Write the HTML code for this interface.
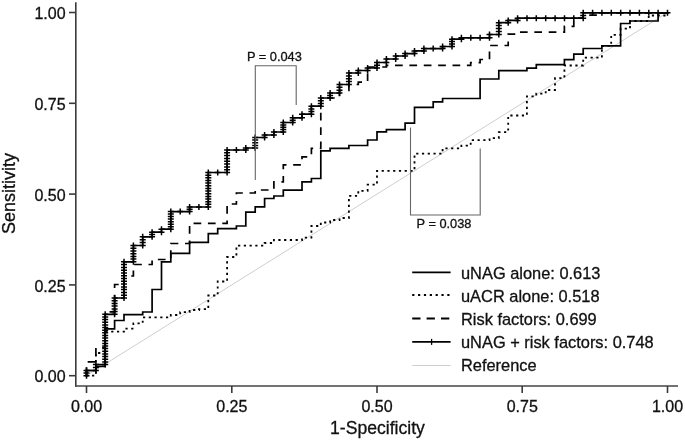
<!DOCTYPE html>
<html><head><meta charset="utf-8"><style>
html,body{margin:0;padding:0;background:#fff;overflow:hidden;width:685px;height:440px;}
svg{display:block;will-change:transform;}
text{font-family:"Liberation Sans",sans-serif;fill:#111;stroke:#111;stroke-width:0.3px;}
</style></head><body>
<svg width="685" height="440" viewBox="0 0 685 440">
<rect width="685" height="440" fill="#fff"/>
<line x1="86.5" y1="375.7" x2="667.5" y2="12.5" stroke="#c8c8c8" stroke-width="0.9"/>
<path d="M86.5 375.7 H95.9 V353.0 H105.2 V331.6 H124.0 V328.6 H133.4 V323.4 H142.7 V317.4 H170.8 V315.0 H180.2 V312.2 H189.6 V310.0 H199.0 V309.2 H208.3 V295.5 H217.7 V281.5 H227.1 V257.0 H236.4 V245.7 H264.6 V243.0 H273.9 V240.0 H302.0 V237.7 H311.4 V226.0 H320.8 V222.5 H330.1 V220.0 H339.5 V218.0 H348.9 V195.8 H358.3 V190.8 H367.6 V184.7 H377.0 V170.8 H414.5 V153.6 H442.6 V148.3 H461.4 V145.6 H470.7 V140.2 H489.5 V138.2 H498.8 V132.2 H508.2 V115.5 H526.9 V96.4 H536.3 V93.6 H545.7 V90.0 H555.0 V78.2 H564.4 V65.5 H583.2 V57.7 H601.9 V45.9 H611.2 V34.8 H620.6 V28.6 H630.0 V21.0 H648.7 V15.5 H667.5 V12.8" fill="none" stroke="#000" stroke-width="1.8" stroke-dasharray="2.2 3.55" stroke-dashoffset="0.2" stroke-linejoin="miter"/>
<path d="M86.5 375.7 V361.8 H95.9 V347.5 H105.2 V311.8 H114.6 V284.5 H124.0 V276.0 H133.4 V264.5 H152.1 V259.5 H170.8 V243.5 H189.6 V223.3 H227.1 V204.0 H236.4 V193.0 H255.2 V190.0 H273.9 V181.8 H283.3 V164.8 H302.0 V156.8 H311.4 V148.3 H320.8 V98.0 H339.5 V90.5 H348.9 V84.5 H358.3 V82.2 H367.6 V67.0 H386.4 V65.4 H470.7 V62.7 H480.1 V59.5 H489.5 V45.5 H508.2 V34.2 H517.6 V32.2 H564.4 V26.3 H573.8 V18.2 H583.2 V15.2 H601.9 V12.8 H667.5" fill="none" stroke="#000" stroke-width="1.7" stroke-dasharray="7.7 6.675" stroke-dashoffset="-0.7"/>
<path d="M86.5 375.7 V370.5 H95.9 V366.4 H105.2 V328.8 H114.6 V320.5 H124.0 V314.6 H142.7 V312.0 H152.1 V289.5 H161.5 V261.8 H170.8 V253.3 H189.6 V242.4 H208.3 V233.6 H217.7 V228.7 H236.4 V226.0 H245.8 V212.2 H255.2 V206.8 H264.6 V198.5 H273.9 V196.0 H283.3 V190.1 H302.0 V181.8 H311.4 V178.5 H320.8 V150.8 H330.1 V148.3 H348.9 V145.5 H367.6 V140.0 H377.0 V131.8 H386.4 V129.6 H405.1 V123.1 H414.5 V107.3 H433.2 V101.8 H442.6 V98.5 H480.1 V79.0 H498.8 V70.7 H526.9 V68.2 H536.3 V64.7 H564.4 V59.7 H573.8 V54.2 H583.2 V48.5 H601.9 V45.9 H620.6 V23.5 H630.0 V21.0 H658.1 V12.8 H667.5" fill="none" stroke="#000" stroke-width="1.7" stroke-linecap="square"/>
<path d="M86.5 375.7 V370.5 H95.9 V364.5 H105.2 V314.3 H114.6 V298.0 H124.0 V261.8 H133.4 V245.5 H142.7 V236.8 H152.1 V232.2 H161.5 V229.2 H170.8 V211.6 H189.6 V207.0 H208.3 V172.5 H227.1 V150.0 H245.8 V148.0 H255.2 V137.5 H264.6 V135.0 H273.9 V132.0 H283.3 V122.5 H292.7 V117.8 H302.0 V114.2 H311.4 V106.2 H320.8 V98.0 H330.1 V93.0 H339.5 V84.5 H348.9 V73.0 H358.3 V70.5 H367.6 V68.0 H377.0 V62.5 H386.4 V59.0 H395.7 V56.0 H405.1 V53.6 H414.5 V50.9 H423.9 V48.6 H442.6 V46.5 H452.0 V39.2 H461.4 V37.8 H489.5 V34.5 H498.8 V22.7 H508.2 V20.4 H517.6 V18.2 H583.2 V12.8 H667.5" fill="none" stroke="#000" stroke-width="1.7" stroke-linecap="square"/>
<path d="M83.5 375.7h6.0M86.5 372.7v6.0M83.5 373.1h6.0M86.5 370.1v6.0M83.5 370.5h6.0M86.5 367.5v6.0M92.9 370.5h6.0M95.9 367.5v6.0M92.9 367.5h6.0M95.9 364.5v6.0M92.9 364.5h6.0M95.9 361.5v6.0M102.2 364.5h6.0M105.2 361.5v6.0M102.2 361.9h6.0M105.2 358.9v6.0M102.2 359.2h6.0M105.2 356.2v6.0M102.2 356.6h6.0M105.2 353.6v6.0M102.2 353.9h6.0M105.2 350.9v6.0M102.2 351.3h6.0M105.2 348.3v6.0M102.2 348.6h6.0M105.2 345.6v6.0M102.2 346.0h6.0M105.2 343.0v6.0M102.2 343.4h6.0M105.2 340.4v6.0M102.2 340.7h6.0M105.2 337.7v6.0M102.2 338.1h6.0M105.2 335.1v6.0M102.2 335.4h6.0M105.2 332.4v6.0M102.2 332.8h6.0M105.2 329.8v6.0M102.2 330.2h6.0M105.2 327.2v6.0M102.2 327.5h6.0M105.2 324.5v6.0M102.2 324.9h6.0M105.2 321.9v6.0M102.2 322.2h6.0M105.2 319.2v6.0M102.2 319.6h6.0M105.2 316.6v6.0M102.2 316.9h6.0M105.2 313.9v6.0M102.2 314.3h6.0M105.2 311.3v6.0M111.6 314.3h6.0M114.6 311.3v6.0M111.6 311.6h6.0M114.6 308.6v6.0M111.6 308.9h6.0M114.6 305.9v6.0M111.6 306.1h6.0M114.6 303.1v6.0M111.6 303.4h6.0M114.6 300.4v6.0M111.6 300.7h6.0M114.6 297.7v6.0M111.6 298.0h6.0M114.6 295.0v6.0M121.0 298.0h6.0M124.0 295.0v6.0M121.0 295.2h6.0M124.0 292.2v6.0M121.0 292.4h6.0M124.0 289.4v6.0M121.0 289.6h6.0M124.0 286.6v6.0M121.0 286.9h6.0M124.0 283.9v6.0M121.0 284.1h6.0M124.0 281.1v6.0M121.0 281.3h6.0M124.0 278.3v6.0M121.0 278.5h6.0M124.0 275.5v6.0M121.0 275.7h6.0M124.0 272.7v6.0M121.0 272.9h6.0M124.0 269.9v6.0M121.0 270.2h6.0M124.0 267.2v6.0M121.0 267.4h6.0M124.0 264.4v6.0M121.0 264.6h6.0M124.0 261.6v6.0M121.0 261.8h6.0M124.0 258.8v6.0M130.4 261.8h6.0M133.4 258.8v6.0M130.4 259.1h6.0M133.4 256.1v6.0M130.4 256.4h6.0M133.4 253.4v6.0M130.4 253.7h6.0M133.4 250.7v6.0M130.4 250.9h6.0M133.4 247.9v6.0M130.4 248.2h6.0M133.4 245.2v6.0M130.4 245.5h6.0M133.4 242.5v6.0M139.7 245.5h6.0M142.7 242.5v6.0M139.7 242.6h6.0M142.7 239.6v6.0M139.7 239.7h6.0M142.7 236.7v6.0M139.7 236.8h6.0M142.7 233.8v6.0M149.1 236.8h6.0M152.1 233.8v6.0M149.1 234.5h6.0M152.1 231.5v6.0M149.1 232.2h6.0M152.1 229.2v6.0M158.5 232.2h6.0M161.5 229.2v6.0M158.5 229.2h6.0M161.5 226.2v6.0M167.8 229.2h6.0M170.8 226.2v6.0M167.8 226.7h6.0M170.8 223.7v6.0M167.8 224.2h6.0M170.8 221.2v6.0M167.8 221.7h6.0M170.8 218.7v6.0M167.8 219.1h6.0M170.8 216.1v6.0M167.8 216.6h6.0M170.8 213.6v6.0M167.8 214.1h6.0M170.8 211.1v6.0M167.8 211.6h6.0M170.8 208.6v6.0M177.2 211.6h6.0M180.2 208.6v6.0M186.6 211.6h6.0M189.6 208.6v6.0M186.6 209.3h6.0M189.6 206.3v6.0M186.6 207.0h6.0M189.6 204.0v6.0M195.9 207.0h6.0M198.9 204.0v6.0M205.3 207.0h6.0M208.3 204.0v6.0M205.3 204.3h6.0M208.3 201.3v6.0M205.3 201.7h6.0M208.3 198.7v6.0M205.3 199.0h6.0M208.3 196.0v6.0M205.3 196.4h6.0M208.3 193.4v6.0M205.3 193.7h6.0M208.3 190.7v6.0M205.3 191.1h6.0M208.3 188.1v6.0M205.3 188.4h6.0M208.3 185.4v6.0M205.3 185.8h6.0M208.3 182.8v6.0M205.3 183.1h6.0M208.3 180.1v6.0M205.3 180.5h6.0M208.3 177.5v6.0M205.3 177.8h6.0M208.3 174.8v6.0M205.3 175.2h6.0M208.3 172.2v6.0M205.3 172.5h6.0M208.3 169.5v6.0M214.7 172.5h6.0M217.7 169.5v6.0M224.1 172.5h6.0M227.1 169.5v6.0M224.1 169.7h6.0M227.1 166.7v6.0M224.1 166.9h6.0M227.1 163.9v6.0M224.1 164.1h6.0M227.1 161.1v6.0M224.1 161.2h6.0M227.1 158.2v6.0M224.1 158.4h6.0M227.1 155.4v6.0M224.1 155.6h6.0M227.1 152.6v6.0M224.1 152.8h6.0M227.1 149.8v6.0M224.1 150.0h6.0M227.1 147.0v6.0M233.4 150.0h6.0M236.4 147.0v6.0M242.8 150.0h6.0M245.8 147.0v6.0M242.8 148.0h6.0M245.8 145.0v6.0M252.2 148.0h6.0M255.2 145.0v6.0M252.2 145.4h6.0M255.2 142.4v6.0M252.2 142.8h6.0M255.2 139.8v6.0M252.2 140.1h6.0M255.2 137.1v6.0M252.2 137.5h6.0M255.2 134.5v6.0M261.6 137.5h6.0M264.6 134.5v6.0M261.6 135.0h6.0M264.6 132.0v6.0M270.9 135.0h6.0M273.9 132.0v6.0M270.9 132.0h6.0M273.9 129.0v6.0M280.3 132.0h6.0M283.3 129.0v6.0M280.3 129.6h6.0M283.3 126.6v6.0M280.3 127.2h6.0M283.3 124.2v6.0M280.3 124.9h6.0M283.3 121.9v6.0M280.3 122.5h6.0M283.3 119.5v6.0M289.7 122.5h6.0M292.7 119.5v6.0M289.7 120.2h6.0M292.7 117.2v6.0M289.7 117.8h6.0M292.7 114.8v6.0M299.0 117.8h6.0M302.0 114.8v6.0M299.0 114.2h6.0M302.0 111.2v6.0M308.4 114.2h6.0M311.4 111.2v6.0M308.4 111.5h6.0M311.4 108.5v6.0M308.4 108.9h6.0M311.4 105.9v6.0M308.4 106.2h6.0M311.4 103.2v6.0M317.8 106.2h6.0M320.8 103.2v6.0M317.8 103.5h6.0M320.8 100.5v6.0M317.8 100.7h6.0M320.8 97.7v6.0M317.8 98.0h6.0M320.8 95.0v6.0M327.1 98.0h6.0M330.1 95.0v6.0M327.1 95.5h6.0M330.1 92.5v6.0M327.1 93.0h6.0M330.1 90.0v6.0M336.5 93.0h6.0M339.5 90.0v6.0M336.5 90.2h6.0M339.5 87.2v6.0M336.5 87.3h6.0M339.5 84.3v6.0M336.5 84.5h6.0M339.5 81.5v6.0M345.9 84.5h6.0M348.9 81.5v6.0M345.9 81.6h6.0M348.9 78.6v6.0M345.9 78.8h6.0M348.9 75.8v6.0M345.9 75.9h6.0M348.9 72.9v6.0M345.9 73.0h6.0M348.9 70.0v6.0M355.3 73.0h6.0M358.3 70.0v6.0M355.3 70.5h6.0M358.3 67.5v6.0M364.6 70.5h6.0M367.6 67.5v6.0M364.6 68.0h6.0M367.6 65.0v6.0M374.0 68.0h6.0M377.0 65.0v6.0M374.0 65.2h6.0M377.0 62.2v6.0M374.0 62.5h6.0M377.0 59.5v6.0M383.4 62.5h6.0M386.4 59.5v6.0M383.4 59.0h6.0M386.4 56.0v6.0M392.7 59.0h6.0M395.7 56.0v6.0M392.7 56.0h6.0M395.7 53.0v6.0M402.1 56.0h6.0M405.1 53.0v6.0M402.1 53.6h6.0M405.1 50.6v6.0M411.5 53.6h6.0M414.5 50.6v6.0M411.5 50.9h6.0M414.5 47.9v6.0M420.9 50.9h6.0M423.9 47.9v6.0M420.9 48.6h6.0M423.9 45.6v6.0M430.2 48.6h6.0M433.2 45.6v6.0M439.6 48.6h6.0M442.6 45.6v6.0M439.6 46.5h6.0M442.6 43.5v6.0M449.0 46.5h6.0M452.0 43.5v6.0M449.0 44.1h6.0M452.0 41.1v6.0M449.0 41.6h6.0M452.0 38.6v6.0M449.0 39.2h6.0M452.0 36.2v6.0M458.4 39.2h6.0M461.4 36.2v6.0M458.4 37.8h6.0M461.4 34.8v6.0M467.8 37.8h6.0M470.8 34.8v6.0M477.1 37.8h6.0M480.1 34.8v6.0M486.5 37.8h6.0M489.5 34.8v6.0M486.5 34.5h6.0M489.5 31.5v6.0M495.8 34.5h6.0M498.8 31.5v6.0M495.8 31.6h6.0M498.8 28.6v6.0M495.8 28.6h6.0M498.8 25.6v6.0M495.8 25.6h6.0M498.8 22.6v6.0M495.8 22.7h6.0M498.8 19.7v6.0M505.2 22.7h6.0M508.2 19.7v6.0M505.2 20.4h6.0M508.2 17.4v6.0M514.6 20.4h6.0M517.6 17.4v6.0M514.6 18.2h6.0M517.6 15.2v6.0M524.0 18.2h6.0M527.0 15.2v6.0M533.3 18.2h6.0M536.3 15.2v6.0M542.7 18.2h6.0M545.7 15.2v6.0M552.1 18.2h6.0M555.1 15.2v6.0M561.5 18.2h6.0M564.5 15.2v6.0M570.8 18.2h6.0M573.8 15.2v6.0M580.2 18.2h6.0M583.2 15.2v6.0M580.2 15.5h6.0M583.2 12.5v6.0M580.2 12.8h6.0M583.2 9.8v6.0M589.6 12.8h6.0M592.6 9.8v6.0M598.9 12.8h6.0M601.9 9.8v6.0M608.3 12.8h6.0M611.3 9.8v6.0M617.7 12.8h6.0M620.7 9.8v6.0M627.0 12.8h6.0M630.0 9.8v6.0M636.4 12.8h6.0M639.4 9.8v6.0M645.8 12.8h6.0M648.8 9.8v6.0M655.1 12.8h6.0M658.1 9.8v6.0M664.5 12.8h6.0M667.5 9.8v6.0" fill="none" stroke="#000" stroke-width="1.5"/>
<g stroke="#3a3a3a" stroke-width="1.6" fill="none">
<path d="M75.8 2.2V386.8"/><path d="M75 386.0H678" stroke="#444" stroke-width="1.7"/>
<path d="M69 375.7H76"/>
<path d="M86.5 386V393"/>
<path d="M69 284.9H76"/>
<path d="M231.8 386V393"/>
<path d="M69 194.1H76"/>
<path d="M377.0 386V393"/>
<path d="M69 103.3H76"/>
<path d="M522.2 386V393"/>
<path d="M69 12.5H76"/>
<path d="M667.5 386V393"/>
</g>
<text transform="translate(65.6,382.4) scale(1,1)" font-size="16" text-anchor="end">0.00</text>
<text transform="translate(86.5,411.8) scale(1,1)" font-size="16" text-anchor="middle">0.00</text>
<text transform="translate(65.6,291.6) scale(1,1)" font-size="16" text-anchor="end">0.25</text>
<text transform="translate(231.8,411.8) scale(1,1)" font-size="16" text-anchor="middle">0.25</text>
<text transform="translate(65.6,200.8) scale(1,1)" font-size="16" text-anchor="end">0.50</text>
<text transform="translate(377.0,411.8) scale(1,1)" font-size="16" text-anchor="middle">0.50</text>
<text transform="translate(65.6,110.0) scale(1,1)" font-size="16" text-anchor="end">0.75</text>
<text transform="translate(522.2,411.8) scale(1,1)" font-size="16" text-anchor="middle">0.75</text>
<text transform="translate(65.6,19.2) scale(1,1)" font-size="16" text-anchor="end">1.00</text>
<text transform="translate(667.5,411.8) scale(1,1)" font-size="16" text-anchor="middle">1.00</text>
<text x="377.5" y="433.6" font-size="17.6" text-anchor="middle">1-Specificity</text>
<text transform="translate(15.4,193.6) rotate(-90)" font-size="18" text-anchor="middle">Sensitivity</text>
<g stroke="#666" stroke-width="1.1" fill="none"><path d="M255.3 180V65.8H296.2V105"/><path d="M410.5 127.6V215H480.2V148.6"/></g>
<text transform="translate(274.4,61) scale(1,1)" font-size="12.8" text-anchor="middle">P = 0.043</text>
<text transform="translate(444,227.8) scale(1,1)" font-size="12.8" text-anchor="middle">P = 0.038</text>
<path d="M412.2 272.3H450.6" stroke="#000" stroke-width="1.8"/>
<path d="M412.2 295.0H450.6" stroke="#000" stroke-width="1.8" stroke-dasharray="2.2 3.65"/>
<path d="M412.2 318.5H450.6" stroke="#000" stroke-width="1.8" stroke-dasharray="8.3 6.1"/>
<path d="M412.2 341.9H450.6" stroke="#000" stroke-width="1.8"/><path d="M431.6 338.9v6" stroke="#000" stroke-width="1.3"/>
<path d="M412.2 365.5H450.6" stroke="#c8c8c8" stroke-width="0.9"/>
<text transform="translate(461.0,278.5) scale(1,1)" font-size="16.4">uNAG alone: 0.613</text>
<text transform="translate(461.0,301.6) scale(1,1)" font-size="16.4">uACR alone: 0.518</text>
<text transform="translate(461.0,324.9) scale(1,1)" font-size="16.4">Risk factors: 0.699</text>
<text transform="translate(461.0,348.2) scale(1,1)" font-size="16.4">uNAG + risk factors: 0.748</text>
<text transform="translate(461.0,371.4) scale(1,1)" font-size="16.4">Reference</text>
</svg></body></html>
